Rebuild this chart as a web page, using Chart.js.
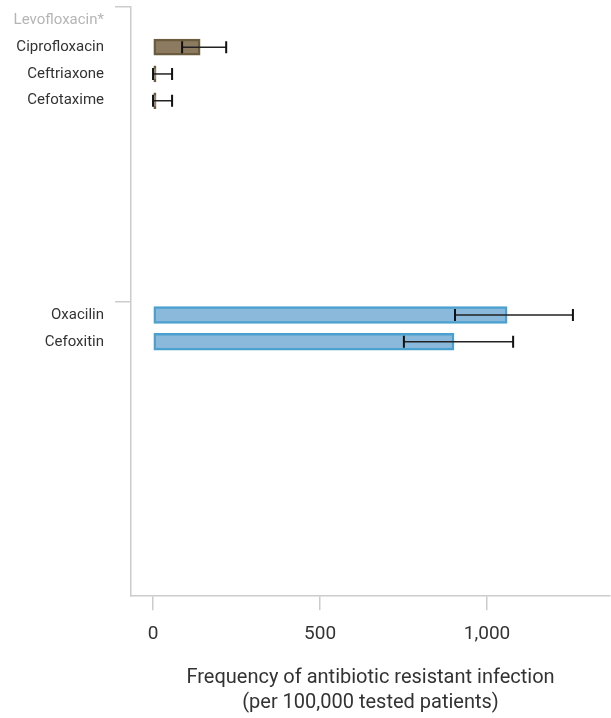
<!DOCTYPE html>
<html>
<head>
<meta charset="utf-8">
<script src="https://cdn.jsdelivr.net/npm/chart.js@4/dist/chart.umd.min.js"></script>
<style>
  html, body { margin: 0; padding: 0; background: #fff; }
  #wrap { width: 611px; height: 718px; }
</style>
</head>
<body>
<div id="wrap"><canvas id="chart" width="611" height="718"></canvas></div>
<script>
// group 1 (brown)
const labelsA = ['Levofloxacin*', 'Ciprofloxacin', 'Ceftriaxone', 'Cefotaxime'];
const valuesA = [null, 141, 9, 9];
const lowA = [null, 87, 0, 0];
const highA = [null, 219, 57, 57];

// group 2 (blue)
const labelsB = ['Oxacilin', 'Cefoxitin'];
const valuesB = [1060, 901];
const lowB = [904, 751];
const highB = [1257, 1078];

const xTicks = [0, 500, 1000];
const rowsPerGroup = 11;

function pad(arr, fill) {
    const out = arr.slice();
    while (out.length < rowsPerGroup) out.push(fill);
    return out;
}

const labels = pad(labelsA, '').concat(pad(labelsB, ''));
const dataA = pad(valuesA, null).concat(pad([], null));
const dataB = pad([], null).concat(pad(valuesB, null));
const errA = { low: pad(lowA, null).concat(pad([], null)), high: pad(highA, null).concat(pad([], null)) };
const errB = { low: pad([], null).concat(pad(lowB, null)), high: pad([], null).concat(pad(highB, null)) };

const errorBars = {
    id: 'errorBars',
    afterDatasetsDraw(chart) {
        const ctx = chart.ctx;
        const x = chart.scales.x;
        [errA, errB].forEach((err, di) => {
            const meta = chart.getDatasetMeta(di);
            meta.data.forEach((el, i) => {
                if (err.low[i] === null || err.low[i] === undefined) return;
                const x1 = x.getPixelForValue(err.low[i]);
                const x2 = x.getPixelForValue(err.high[i]);
                const y = el.y;
                ctx.save();
                ctx.strokeStyle = '#222';
                ctx.lineWidth = 1.5;
                ctx.beginPath();
                ctx.moveTo(x1, y); ctx.lineTo(x2, y);
                ctx.stroke();
                ctx.strokeStyle = '#111';
                ctx.lineWidth = 2;
                ctx.beginPath();
                ctx.moveTo(x1, y - 6); ctx.lineTo(x1, y + 6);
                ctx.moveTo(x2, y - 6); ctx.lineTo(x2, y + 6);
                ctx.stroke();
                ctx.restore();
            });
        });
    }
};

new Chart(document.getElementById('chart').getContext('2d'), {
    type: 'bar',
    data: {
        labels: labels,
        datasets: [
            { data: dataA, backgroundColor: '#8c7b60', borderColor: '#6b5b3f', borderWidth: 2.5, borderSkipped: false, barThickness: 16, grouped: false },
            { data: dataB, backgroundColor: '#8bb9dc', borderColor: '#4aa0cf', borderWidth: 2.5, borderSkipped: false, barThickness: 17, grouped: false }
        ]
    },
    options: {
        indexAxis: 'y',
        responsive: false,
        animation: false,
        layout: { padding: { top: 7, right: 1, left: 0, bottom: 3 } },
        plugins: { legend: { display: false }, tooltip: { enabled: false } },
        scales: {
            x: {
                min: -66,
                max: 1368,
                afterBuildTicks: (s) => { s.ticks = xTicks.map(v => ({ value: v })); },
                afterFit: (s) => { s.paddingLeft = 0; s.paddingRight = 0; },
                grid: { drawOnChartArea: false, drawTicks: true, tickLength: 14, color: '#cccccc', lineWidth: 1.5 },
                border: { display: true, color: '#cccccc', width: 1.5 },
                ticks: {
                    color: '#333',
                    font: { family: 'Roboto', size: 19, lineHeight: 1.2 },
                    padding: 13,
                    callback: (v) => v.toLocaleString('en-US')
                },
                title: {
                    display: true,
                    text: ['Frequency of antibiotic resistant infection', '(per 100,000 tested patients)'],
                    color: '#333',
                    font: { family: 'Roboto', size: 20, lineHeight: 1.25 },
                    padding: { top: 6, bottom: 0 }
                }
            },
            y: {
                afterFit: (s) => { s.width = 131; s.paddingTop = 0; s.paddingBottom = 0; },
                grid: {
                    offset: true,
                    drawOnChartArea: false,
                    drawTicks: true,
                    tickLength: 16,
                    lineWidth: 1.5,
                    color: (c) => [0, rowsPerGroup, rowsPerGroup * 2].includes(c.index) ? '#cccccc' : 'rgba(0,0,0,0)'
                },
                border: { display: true, color: '#cccccc', width: 1.5 },
                ticks: {
                    autoSkip: false,
                    padding: 11,
                    color: (c) => c.index === 0 ? '#b5b5b5' : '#333',
                    font: { family: 'Roboto', size: 15 }
                }
            }
        }
    },
    plugins: [errorBars]
});
</script>
</body>
</html>
